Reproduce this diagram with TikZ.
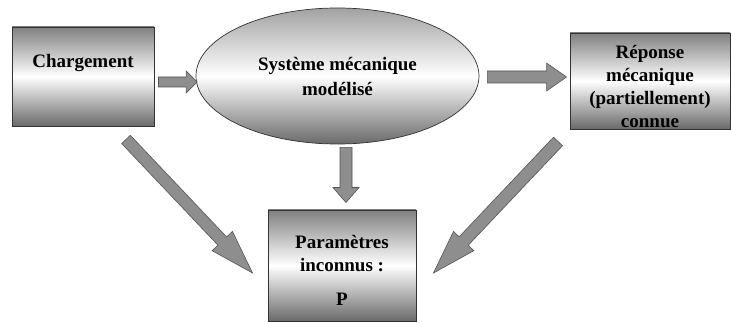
\documentclass[tikz,border=0pt]{standalone}
\usepackage{fontspec}
\setmainfont{Liberation Serif}
\usepackage{xcolor}
\usetikzlibrary{calc,positioning,shapes.geometric}
\definecolor{edgex}{HTML}{333333}
\definecolor{topx}{HTML}{808080}
\definecolor{botx}{HTML}{6A6A6A}
\definecolor{elltop}{HTML}{A2A2A2}
\definecolor{arrfill}{HTML}{8E8E8E}
\definecolor{arrline}{HTML}{555555}
\tikzset{
  box/.style={draw=edgex,line width=0.9pt,top color=topx,bottom color=botx,middle color=white,inner sep=0pt},
  ell/.style={ellipse,draw=edgex,line width=0.7pt,top color=elltop,bottom color=botx,middle color=white,inner sep=0pt},
  txt/.style={font=\bfseries\fontsize{19}{23}\selectfont,align=center,inner sep=0pt},
  arr/.style={fill=arrfill,draw=arrline,line width=0.6pt,line join=miter}
}
% fat block arrow: start, tip, shaft half width, head half width, head length
\newcommand{\fatarrow}[5]{%
  \coordinate (fah) at ($(#2)!#5!(#1)$);
  \filldraw[arr] ($(#1)!#3!90:(#2)$) -- ($(fah)!#3!90:(#2)$) -- ($(fah)!#4!90:(#2)$) -- (#2)
    -- ($(fah)!#4!-90:(#2)$) -- ($(fah)!#3!-90:(#2)$) -- ($(#1)!#3!-90:(#2)$) -- cycle;
}

\begin{document}
\begin{tikzpicture}[x=1pt,y=-1pt]
\useasboundingbox (0,0) rectangle (731,323);
% blocks
\node[box,minimum width=142pt,minimum height=99pt] (charg) at (83,76.5) {};
\node[ell,minimum width=283pt,minimum height=136pt] (sys) at (337.5,76) {};
\node[box,minimum width=160pt,minimum height=96pt] (rep) at (650,81) {};
\node[box,minimum width=148pt,minimum height=111pt] (param) at (342,265.5) {};
% texts
\node[txt] (chargtxt) at ([yshift=13.5pt]charg.center) {Chargement};
\node[txt] (systxt) at (sys.center) {Système mécanique\\[2pt]modélisé};
\node[txt] (reptxt) at ([yshift=-6pt]rep.center) {Réponse\\mécanique\\(partiellement)\\connue};
\node[txt] (paramtxt) at ([yshift=-5pt]param.center) {Paramètres\\inconnus :\\[11pt]P};
% arrows
\coordinate (a1s) at ($(charg.east)+(4,5.5)$);
\coordinate (a1e) at ($(sys.west)+(1.5,6)$);
\coordinate (a2s) at ($(sys.east)+(8,1)$);
\coordinate (a2e) at ($(rep.west)+(-3,-4)$);
\coordinate (a3s) at ($(sys.south)+(8.5,3)$);
\coordinate (a3e) at ($(param.north)+(4,-7)$);
\coordinate (a4s) at ($(charg.south)+(43,13)$);
\coordinate (a4e) at ($(param.west)+(-15,7.5)$);
\coordinate (a5s) at ($(rep.south)+(-92,12)$);
\coordinate (a5e) at ($(param.east)+(17,7.5)$);
\fatarrow{a1s}{a1e}{5pt}{11pt}{11pt}
\fatarrow{a2s}{a2e}{6pt}{14pt}{20pt}
\fatarrow{a3s}{a3e}{6pt}{13pt}{15pt}
\fatarrow{a4s}{a4e}{6pt}{14pt}{44pt}
\fatarrow{a5s}{a5e}{6.2pt}{14pt}{44pt}
\end{tikzpicture}
\end{document}
